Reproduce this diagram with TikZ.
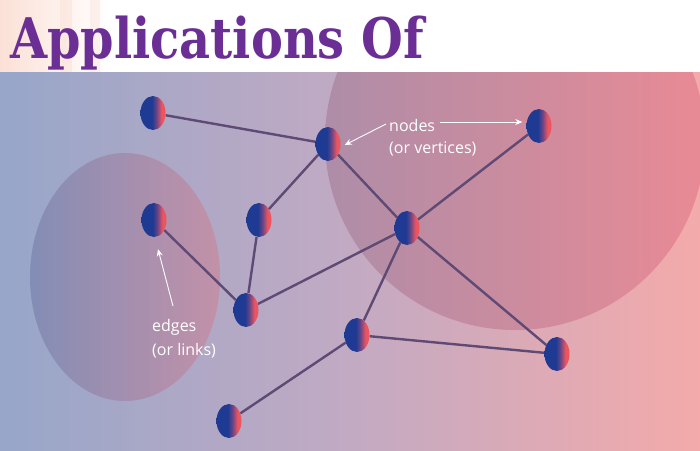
\documentclass[tikz,border=0pt]{standalone}
\usepackage{fontspec}
\setmainfont{Open Sans}
\newfontfamily\titlefont{DejaVu Serif}
\usetikzlibrary{shapes.geometric,arrows.meta}
\definecolor{nb}{HTML}{1F3A92}
\definecolor{nm}{HTML}{6A4585}
\definecolor{nr}{HTML}{EC5560}
\definecolor{edgec}{HTML}{5E4A74}
\definecolor{bgl}{HTML}{97A6C9}
\definecolor{bgm}{HTML}{C2AAC3}
\definecolor{bgr}{HTML}{F4AAAA}
\definecolor{circl}{HTML}{AE8DA8}
\definecolor{circr}{HTML}{E98A95}
\definecolor{ell}{HTML}{8089B2}
\definecolor{elr}{HTML}{C68DA4}
\definecolor{stripe}{HTML}{FBE0D6}
\definecolor{titlec}{HTML}{6A2E94}
\pgfdeclarehorizontalshading{nodeshade}{100bp}{color(0bp)=(nb); color(25bp)=(nb); color(48bp)=(nb); color(57bp)=(nm); color(67bp)=(nr); color(100bp)=(nr)}
\pgfdeclarelayer{bg}
\pgfsetlayers{bg,main}
\tikzset{
  gnode/.style={ellipse, minimum width=25pt, minimum height=34pt, inner sep=0pt, shading=nodeshade},
  edge/.style={draw=edgec, line width=2.4pt},
  lbl/.style={text=white, font=\fontsize{16}{20}\selectfont, align=left, inner sep=0pt, anchor=west},
  pointer/.style={draw=white, line width=0.9pt, -{Stealth[length=7pt,width=6pt]}},
}
\begin{document}
\begin{tikzpicture}[x=1pt,y=-1pt]
\useasboundingbox (0,0) rectangle (700,450);
\begin{pgfonlayer}{bg}
  \fill[white] (0,0) rectangle (700,72);
  \shade[left color=stripe, right color=white] (0,0) rectangle (110,72);
  \fill[stripe, opacity=0.5] (60,0) rectangle (72,72);
  \fill[stripe, opacity=0.4] (90,0) rectangle (100,72);
  \shade[left color=bgl, right color=bgr, middle color=bgm] (0,72) rectangle (700,450);
  \begin{scope}
    \clip (0,72) rectangle (700,450);
    \shade[left color=circl, right color=circr] (515,140) circle (190);
  \end{scope}
  \shade[left color=ell, right color=elr, fill opacity=0.85] (125,277) ellipse (95 and 124);
\end{pgfonlayer}

\node[font=\titlefont\bfseries\fontsize{56}{60}\selectfont, text=titlec, anchor=base west, inner sep=0pt] (title) at (10,58) {\scalebox{0.855}[1]{Applications Of}};

\node[gnode] (A) at (153,113) {};
\node[gnode] (B) at (328,144) {};
\node[gnode] (C) at (539,126) {};
\node[gnode] (D) at (154,220) {};
\node[gnode] (E) at (259,220) {};
\node[gnode] (F) at (407,228) {};
\node[gnode] (G) at (246,310) {};
\node[gnode] (H) at (357,335) {};
\node[gnode] (I) at (557,354) {};
\node[gnode] (J) at (229,421) {};

\begin{pgfonlayer}{bg}
\draw[edge] (A) -- (B);
\draw[edge] (B) -- (E);
\draw[edge] (B) -- (F);
\draw[edge] (C) -- (F);
\draw[edge] (D) -- (G);
\draw[edge] (E) -- (G);
\draw[edge] (G) -- (F);
\draw[edge] (F) -- (H);
\draw[edge] (F) -- (I);
\draw[edge] (H) -- (I);
\draw[edge] (H) -- (J);
\end{pgfonlayer}

\node[lbl] (nodes) at (389,125) {nodes};
\node[lbl] (vert) at (389,149) {(or vertices)};
\node[lbl] (edges) at (152,327) {edges};
\node[lbl] (links) at (152,351) {(or links)};

\coordinate (n1) at (386,124);
\coordinate (n2) at (440,122);
\coordinate (e1) at (173,306);
\draw[pointer] (n1) -- ([xshift=4pt,yshift=-1pt]B.east);
\draw[pointer] (n2) -- ([xshift=-4pt,yshift=4pt]C.west);
\draw[pointer] (e1) -- ([xshift=4pt,yshift=-12pt]D.south);
\end{tikzpicture}
\end{document}
